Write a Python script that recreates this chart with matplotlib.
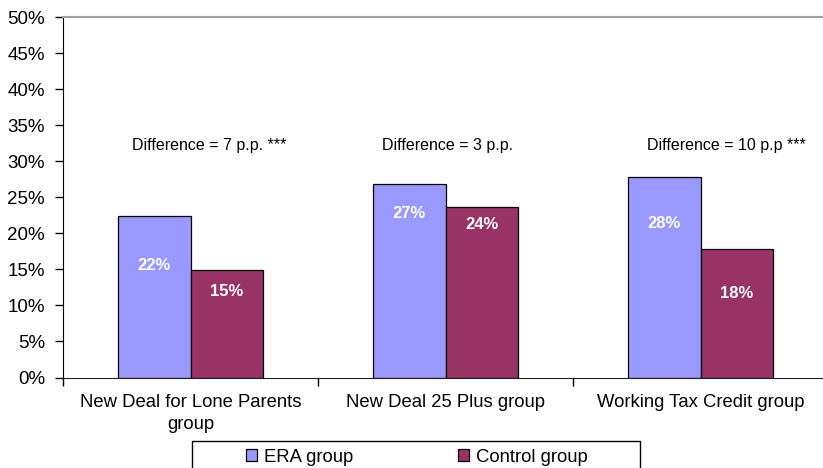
import numpy as np
import matplotlib.pyplot as plt
from matplotlib.patches import Rectangle

plt.rcParams['font.family'] = ['Liberation Sans', 'DejaVu Sans']

groups = ['New Deal for Lone Parents\ngroup', 'New Deal 25 Plus group', 'Working Tax Credit group']
era = [22.4, 26.8, 27.8]
control = [14.9, 23.7, 17.8]
diff_notes = ['Difference = 7 p.p. ***', 'Difference = 3 p.p.', 'Difference = 10 p.p ***']

# where the value labels and notes sit inside the bars / above the groups
label_y_era = [15.6, 22.7, 21.4]
label_y_ctl = [11.9, 21.2, 11.7]
note_x = [-0.23, 0.75, 1.79]
note_y = 32.2

era_col = '#9999ff'
ctl_col = '#993366'

fig = plt.figure(figsize=(8.23, 4.68), dpi=100)
ax = fig.add_axes([63/823, 1-377.5/468, 765/823, 360.5/468])

x = np.arange(len(groups))
w = 0.286
ax.bar(x - w/2, era, w, color=era_col, edgecolor='black', linewidth=0.9, label='ERA group')
ax.bar(x + w/2, control, w, color=ctl_col, edgecolor='black', linewidth=0.9, label='Control group')

for i in range(len(groups)):
    ax.text(x[i] - w/2, label_y_era[i], '%d%%' % round(era[i]), color='white',
            fontsize=12, fontweight='bold', ha='center', va='center')
    ax.text(x[i] + w/2, label_y_ctl[i], '%d%%' % round(control[i]), color='white',
            fontsize=12, fontweight='bold', ha='center', va='center')
    ax.text(note_x[i], note_y, diff_notes[i], fontsize=11.5, ha='left', va='center')

ax.set_xlim(-0.5, 2.5)
ax.set_ylim(0, 50)
ax.set_yticks(np.arange(0, 51, 5))
ax.set_yticklabels(['%d%%' % v for v in range(0, 51, 5)])
ax.tick_params(axis='y', direction='out', length=6, width=1, pad=7, labelsize=13.5)

ax.set_xticks([-0.5, 0.5, 1.5, 2.5])
ax.set_xticklabels([])
ax.set_xticks(x, minor=True)
ax.set_xticklabels(groups, minor=True, fontsize=13.3, linespacing=1.35)
ax.tick_params(axis='x', which='major', direction='out', length=6, width=1)
ax.tick_params(axis='x', which='minor', length=0, pad=12)

ax.spines['top'].set_color('#a0a0a0')
ax.spines['top'].set_linewidth(1.5)
ax.spines['right'].set_visible(False)
ax.spines['left'].set_color('black')
ax.spines['bottom'].set_color('#222222')

# legend box runs past the bottom edge
fig.patches.append(Rectangle((192/823, -0.05), 448/823, 0.05 + 1 - 441/468,
                             transform=fig.transFigure, fill=False,
                             edgecolor='black', linewidth=1))
fig.legend(loc='center', bbox_to_anchor=(417/823, 1 - 457/468), ncol=2, frameon=False,
           fontsize=13.3, handlelength=0.6, handleheight=0.6, handletextpad=0.35,
           columnspacing=5.7, borderaxespad=0)

fig.savefig('out.png', dpi=100)
